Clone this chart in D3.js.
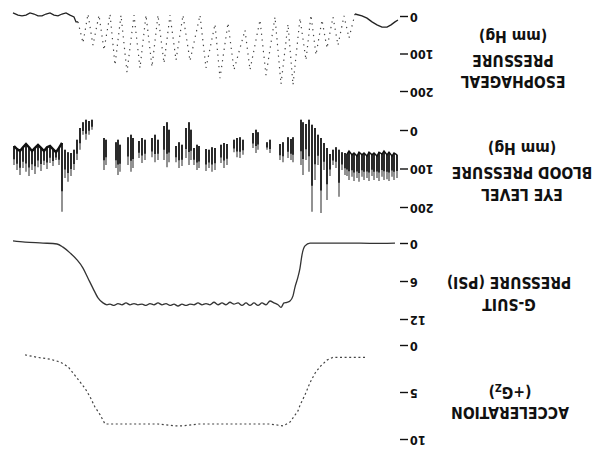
<!DOCTYPE html>
<html><head><meta charset="utf-8">
<script src="https://cdn.jsdelivr.net/npm/d3@7/dist/d3.min.js"></script>
<style>
body{margin:0;background:#fff}
svg{display:block;background:#fff}
</style></head><body>
<svg id="c" width="601" height="459"></svg>
<script>
// time in sample units (0.25 s) from start of record
// ---- Acceleration (+Gz)
const accelTime = [33,41,55,65,71,78,83,88,93,98,100,108,115,128,150,175,200,215,223,240,260,280,293,298,303,308,313,321,330,338,348,361,375];
const accelG    = [1.2,1.2,1.2,1.2,1.5,2.2,2.9,3.9,5.2,6.3,6.9,8.1,8.5,8.3,8.3,8.3,8.3,8.5,8.5,8.3,8.3,8.3,8.3,7.3,6.5,5.4,4.5,3.4,2.2,1.7,1.4,1.2,0.9];
const accelTicks = [0,5,10];

// ---- G-suit pressure (psi)
const suitTime = [3,28,48,68,88,93,96,98,100,103,105,108,111,114,117,120,124,128,132,136,140,144,148,152,156,160,164,168,172,176,180,184,188,192,196,200,204,208,212,216,220,224,228,232,236,240,244,248,252,256,260,264,268,272,276,280,284,288,291,295,300,305,310,315,321,328,335,341,355,373,385];
const suitPsi  = [-0.15,-0.1,-0.15,-0.15,-0.15,0.3,1.7,3.8,5.2,6.8,8.2,9.0,9.2,9.3,10.0,9.6,9.3,9.0,9.6,9.3,9.7,9.3,9.7,9.3,9.7,9.3,9.5,9.2,9.6,9.3,9.6,9.2,9.6,9.4,9.6,9.3,9.6,9.5,9.7,9.5,9.8,9.5,9.7,9.4,9.6,9.3,9.6,9.4,9.7,9.5,9.6,9.4,9.6,9.3,9.6,9.4,9.7,9.5,9.6,9.3,8.5,7.0,5.4,3.8,2.5,1.4,0.5,0,-0.15,-0.3,-0.5];
const suitTicks = [0,6,12];

// ---- Eye level blood pressure (mm Hg), one entry per beat
const bpTime = [1,4,6,9,11,14,16,19,21,24,26,29,31,34,36,39,41,44,46,49,51,53,56,59,62,65,68,71,74,77,80,83,86,89,92,95,97,
  105,107,110,115,118,128,131,140,142,145,155,158,161,164,171,174,177,183,186,189,192,199,201,204,207,209,212,216,219,222,229,231,234,240,243,246,253,256,259,265,267,270,278,280,282,292,294,
  306,309,312,315,318,321,324,327,330,333,336,339,342,345,348,351,354,357,360,363,366,369,372,375,378,381,384];
const bpLow  = [62,57,65,55,62,52,60,55,65,57,62,55,65,57,62,55,65,57,62,52,60,57,55,49,42,49,60,44,31,18,10,-8,-16,-29,-18,-23,-29,
  16,21,16,29,34,23,29,3,-3,5,23,16,18,23,34,31,36,44,42,49,47,39,36,44,-3,-23,-8,36,29,39,-3,-23,-13,23,10,18,23,18,26,18,10,16,36,23,29,23,18,
  -29,-26,-29,-23,-8,23,49,57,55,49,31,44,55,47,39,42,52,44,36,44,52,42,34,42,52,47,39];
const bpHigh = [122,127,119,130,125,127,119,130,122,127,117,130,122,127,119,132,122,130,119,127,117,114,101,171,96,88,117,179,101,213,88,127,210,106,75,114,88,
  81,75,70,81,75,57,49,49,57,44,62,70,68,55,88,96,83,101,106,96,104,96,101,88,75,88,70,91,96,81,81,94,75,75,81,68,75,83,70,96,106,88,106,114,96,88,101,
  -3,10,23,10,49,75,101,117,132,122,210,88,75,91,83,99,88,104,94,112,101,117,106,96,114,101,88];
const bpTicks = [0,100,200];

// ---- Esophageal pressure (mm Hg)
const esoTime = [0,3,7,11,16,21,26,31,36,43,49,54,60,65,71,76,82,87,92,98,105,110,117,123,132,138,148,153,164,170,178,183,192,198,208,215,222,228,234,240,246,252,258,264,271,277,283,288,294,299,305,310,315,320,322,324,328,332,336,340,344,348,352,356,360,364,368,372,376,380,385];
const esoP    = [8,13,21,27,27,21,13,3,-3,-8,56,-3,75,0,83,8,101,-5,115,3,181,19,179,0,155,8,141,35,141,16,163,19,136,-5,117,-5,115,-5,123,-5,133,-5,136,-5,147,-5,128,-8,88,-5,75,-8,69,13,13,0,-5,-11,-8,-3,-5,-11,-8,-3,-3,-8,-11,-5,-3,-5,-11];
const esoTicks = [0,100,200];

const FONT = "'DejaVu Sans Condensed','Liberation Sans Narrow','Liberation Sans',sans-serif";

const svg = d3.select("#c");
// the record is shown rotated by 180 degrees, as in the reference
const root = svg.append("g").attr("transform","rotate(180,300.5,229.5)");

const x = d3.scaleLinear().domain([0,385]).range([203,588]);
const yEso  = d3.scaleLinear().domain([0,200]).range([442,367]);
const yBP   = d3.scaleLinear().domain([0,200]).range([328,251]);
const ySuit = d3.scaleLinear().domain([0,12]).range([215,139]);
const yAcc  = d3.scaleLinear().domain([0,10]).range([113,19]);

function axis(y, ticks){
  const g = root.append("g").attr("transform","translate(201,0)")
    .call(d3.axisLeft(y).tickValues(ticks).tickSize(8).tickPadding(2).tickFormat(d3.format("d")));
  g.select(".domain").remove();
  g.selectAll(".tick line").attr("stroke","#111").attr("stroke-width",1.4);
  g.selectAll(".tick text").attr("font-family",FONT).attr("font-weight","bold")
    .attr("font-size",12.5).attr("fill","#111");
}
axis(yEso, esoTicks); axis(yBP, bpTicks); axis(ySuit, suitTicks); axis(yAcc, accelTicks);

function title(lines, cx, ys){
  lines.forEach((l,i)=>{
    const t = root.append("text").attr("x",cx).attr("y",ys[i]).attr("text-anchor","middle")
      .attr("font-family",FONT).attr("font-weight","bold").attr("font-size",15.5).attr("fill","#111");
    if (Array.isArray(l)) { t.text(l[0]); t.append("tspan").attr("font-size",10.5).attr("dy",3).text(l[1]); t.append("tspan").attr("dy",-3).text(l[2]); }
    else t.text(l);
  });
}
title(["ACCELERATION", ["(+G","Z",")"]], 91, [52.5, 72]);
title(["G-SUIT","PRESSURE (PSI)"], 92, [160.5, 182.5]);
title(["EYE LEVEL","BLOOD PRESSURE","(mm Hg)"], 79, [270.5, 292.5, 316]);
title(["ESOPHAGEAL","PRESSURE","(mm Hg)"], 88, [383.5, 404.5, 428]);

// acceleration: dotted trace
const accData = accelTime.map((t,i)=>({t, v:accelG[i]}));
root.append("path").datum(accData)
  .attr("d", d3.line().x(d=>x(d.t)).y(d=>yAcc(d.v)))
  .attr("fill","none").attr("stroke","#444").attr("stroke-width",1.2).attr("stroke-dasharray","2,2.6");

// g-suit pressure
const suitData = suitTime.map((t,i)=>({t, v:suitPsi[i]}));
root.append("path").datum(suitData)
  .attr("d", d3.line().curve(d3.curveMonotoneX).x(d=>x(d.t)).y(d=>ySuit(d.v)))
  .attr("fill","none").attr("stroke","#333").attr("stroke-width",1.3);

// blood pressure beats: grey full stroke, darker upper part
const bpData = bpTime.map((t,i)=>({t, lo:bpLow[i], hi:bpHigh[i]}));
root.append("g").selectAll("line").data(bpData).join("line")
  .attr("x1",d=>x(d.t)).attr("x2",d=>x(d.t))
  .attr("y1",d=>yBP(d.lo)).attr("y2",d=>yBP(d.hi))
  .attr("stroke","#777").attr("stroke-width",1.6);
root.append("g").selectAll("line").data(bpData).join("line")
  .attr("x1",d=>x(d.t)).attr("x2",d=>x(d.t))
  .attr("y1",d=>yBP(d.lo)).attr("y2",d=>yBP(d.lo + (d.hi-d.lo)*0.7))
  .attr("stroke","#111").attr("stroke-width",1.6);
const bpLine = d3.line().x(d=>x(d.t)).y(d=>yBP(d.lo));
root.append("path").datum(bpData.filter(d=>d.t<=51)).attr("d",bpLine)
  .attr("fill","none").attr("stroke","#111").attr("stroke-width",1.4);
root.append("path").datum(bpData.filter(d=>d.t>=336)).attr("d",bpLine)
  .attr("fill","none").attr("stroke","#111").attr("stroke-width",2.4);

// esophageal pressure
const esoData = esoTime.map((t,i)=>({t, v:esoP[i]}));
const esoLine = d3.line().x(d=>x(d.t)).y(d=>yEso(d.v));
root.append("path").datum(esoData.filter(d=>d.t<=43)).attr("d",esoLine)
  .attr("fill","none").attr("stroke","#222").attr("stroke-width",1.3);
root.append("path").datum(esoData.filter(d=>d.t>=320)).attr("d",esoLine)
  .attr("fill","none").attr("stroke","#222").attr("stroke-width",1.3);
root.append("path").datum(esoData.filter(d=>d.t>=43 && d.t<=320)).attr("d",esoLine)
  .attr("fill","none").attr("stroke","#444").attr("stroke-width",1.2).attr("stroke-dasharray","1.3,4.5");
</script>
</body></html>
